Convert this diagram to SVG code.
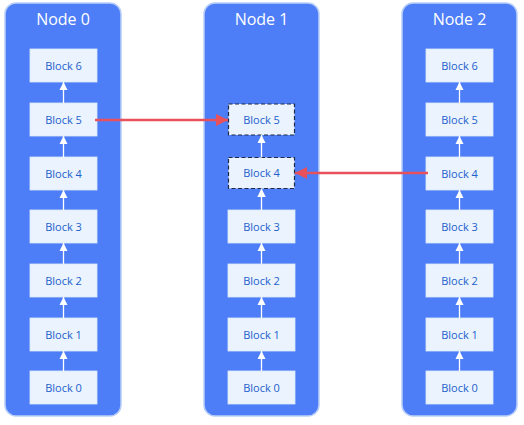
<svg xmlns="http://www.w3.org/2000/svg" width="524" height="425" viewBox="0 0 524 425">
<defs>
<style>
.node{fill:#4d7ef7;stroke:#b9cef7;stroke-width:1.5}
.title{font-family:"Open Sans","Noto Sans",sans-serif;font-size:16px;fill:#ffffff;text-anchor:middle}
.blk{fill:#eaf3fe;stroke:#dce8fa;stroke-width:0.8}
.blkd{fill:#eaf3fe;stroke:#1f2a44;stroke-width:1.2;stroke-dasharray:4 2.5}
.lbl{font-family:"Open Sans","Noto Sans",sans-serif;font-size:11px;fill:#235fcc;text-anchor:middle}
.w{stroke:#ffffff;stroke-width:1.3;fill:none;marker-end:url(#wh)}
.r{stroke:#e8505b;stroke-width:2.4;fill:none;marker-end:url(#rh)}
</style>
<marker id="wh" viewBox="0 0 10 10" refX="10" refY="5" markerWidth="6.5" markerHeight="6.5" markerUnits="strokeWidth" orient="auto"><path d="M0,0 L10,5 L0,10 Z" fill="#ffffff"/></marker>
<marker id="rh" viewBox="0 0 10 10" refX="10" refY="5" markerWidth="5" markerHeight="5.4" markerUnits="strokeWidth" orient="auto"><path d="M0,0 L10,5 L0,10 Z" fill="#e8505b"/></marker>
</defs>
<rect width="524" height="425" fill="#ffffff"/>
<g id="node0">
<rect class="node" x="5" y="3" width="116" height="413" rx="11"/>
<text class="title" x="63" y="25">Node 0</text>
<g id="n0b6"><rect class="blk" x="30" y="49" width="67" height="33"/><text class="lbl" x="63.5" y="69.5">Block 6</text></g>
<g id="n0b5"><rect class="blk" x="30" y="103" width="67" height="33"/><text class="lbl" x="63.5" y="123.5">Block 5</text></g>
<g id="n0b4"><rect class="blk" x="30" y="157" width="67" height="33"/><text class="lbl" x="63.5" y="177.5">Block 4</text></g>
<g id="n0b3"><rect class="blk" x="30" y="210" width="67" height="33"/><text class="lbl" x="63.5" y="230.5">Block 3</text></g>
<g id="n0b2"><rect class="blk" x="30" y="264" width="67" height="33"/><text class="lbl" x="63.5" y="284.5">Block 2</text></g>
<g id="n0b1"><rect class="blk" x="30" y="318" width="67" height="33"/><text class="lbl" x="63.5" y="338.5">Block 1</text></g>
<g id="n0b0"><rect class="blk" x="30" y="371" width="67" height="33"/><text class="lbl" x="63.5" y="391.5">Block 0</text></g>
</g>
<g id="node1">
<rect class="node" x="204" y="3" width="115" height="413" rx="11"/>
<text class="title" x="261.5" y="25">Node 1</text>
<g id="n1b5"><rect class="blkd" x="228.5" y="104" width="66" height="31"/><text class="lbl" x="261.5" y="123.5">Block 5</text></g>
<g id="n1b4"><rect class="blkd" x="228.5" y="157.5" width="66" height="31"/><text class="lbl" x="261.5" y="177">Block 4</text></g>
<g id="n1b3"><rect class="blk" x="228" y="210" width="67" height="33"/><text class="lbl" x="261.5" y="230.5">Block 3</text></g>
<g id="n1b2"><rect class="blk" x="228" y="264" width="67" height="33"/><text class="lbl" x="261.5" y="284.5">Block 2</text></g>
<g id="n1b1"><rect class="blk" x="228" y="318" width="67" height="33"/><text class="lbl" x="261.5" y="338.5">Block 1</text></g>
<g id="n1b0"><rect class="blk" x="228" y="371" width="67" height="33"/><text class="lbl" x="261.5" y="391.5">Block 0</text></g>
</g>
<g id="node2">
<rect class="node" x="402" y="3" width="115" height="413" rx="11"/>
<text class="title" x="459.5" y="25">Node 2</text>
<g id="n2b6"><rect class="blk" x="426" y="49" width="67" height="33"/><text class="lbl" x="459.5" y="69.5">Block 6</text></g>
<g id="n2b5"><rect class="blk" x="426" y="103" width="67" height="33"/><text class="lbl" x="459.5" y="123.5">Block 5</text></g>
<g id="n2b4"><rect class="blk" x="426" y="157" width="67" height="33"/><text class="lbl" x="459.5" y="177.5">Block 4</text></g>
<g id="n2b3"><rect class="blk" x="426" y="210" width="67" height="33"/><text class="lbl" x="459.5" y="230.5">Block 3</text></g>
<g id="n2b2"><rect class="blk" x="426" y="264" width="67" height="33"/><text class="lbl" x="459.5" y="284.5">Block 2</text></g>
<g id="n2b1"><rect class="blk" x="426" y="318" width="67" height="33"/><text class="lbl" x="459.5" y="338.5">Block 1</text></g>
<g id="n2b0"><rect class="blk" x="426" y="371" width="67" height="33"/><text class="lbl" x="459.5" y="391.5">Block 0</text></g>
</g>
<g id="connectors">
<path class="w" d="M63.5,103 V82"/>
<path class="w" d="M63.5,157 V136"/>
<path class="w" d="M63.5,210 V190"/>
<path class="w" d="M63.5,264 V243"/>
<path class="w" d="M63.5,318 V297"/>
<path class="w" d="M63.5,371 V351"/>
<path class="w" d="M261.5,157.5 V135"/>
<path class="w" d="M261.5,210 V188.5"/>
<path class="w" d="M261.5,264 V243"/>
<path class="w" d="M261.5,318 V297"/>
<path class="w" d="M261.5,371 V351"/>
<path class="w" d="M459.5,103 V82"/>
<path class="w" d="M459.5,157 V136"/>
<path class="w" d="M459.5,210 V190"/>
<path class="w" d="M459.5,264 V243"/>
<path class="w" d="M459.5,318 V297"/>
<path class="w" d="M459.5,371 V351"/>
<path class="r" d="M95,120 H228"/>
<path class="r" d="M428,173 H295"/>
</g>
</svg>
